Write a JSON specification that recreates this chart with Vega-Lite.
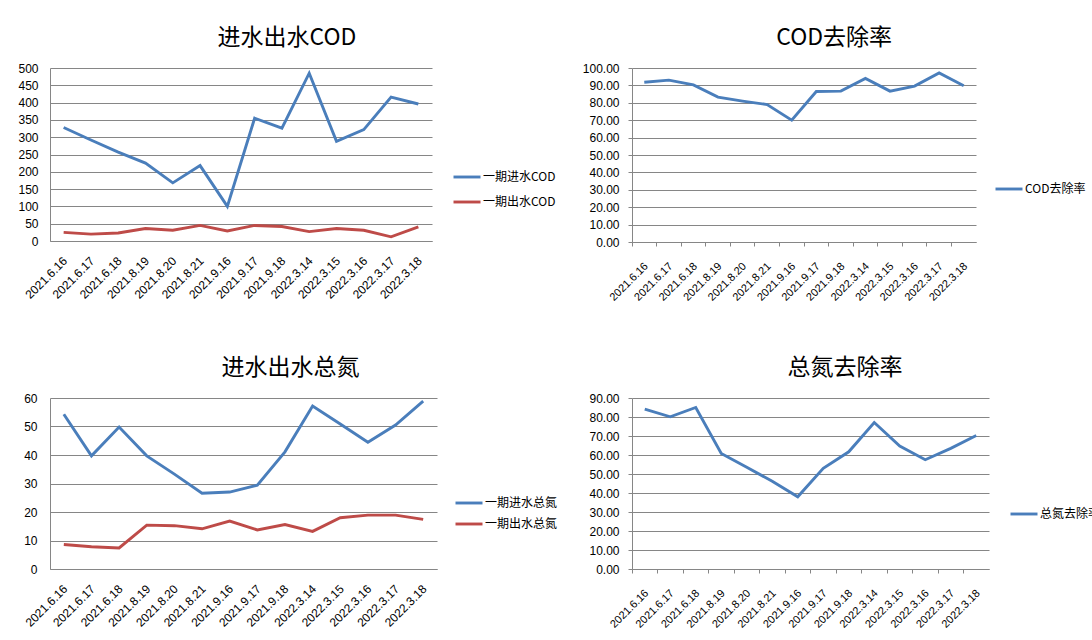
{
  "$schema": "https://vega.github.io/schema/vega-lite/v6.json",
  "padding": {"left": 17, "top": 27, "right": 0, "bottom": 0},
  "background": "white",
  "config": {
    "font": "Noto Sans CJK SC",
    "view": {"stroke": null},
    "axis": {"labelFont": "Liberation Sans", "labelFontSize": 12, "labelColor": "#000", "domainColor": "#868686", "gridColor": "#868686", "tickColor": "#868686", "title": null},
    "title": {"font": "Noto Sans CJK SC", "fontSize": 23, "fontWeight": "normal", "anchor": "middle", "frame": "bounds", "offset": 12, "color": "#000"},
    "legend": {"labelFont": "Noto Sans CJK SC", "labelFontSize": 12, "labelColor": "#000", "symbolType": "stroke", "symbolSize": 729, "symbolStrokeWidth": 3, "title": null, "padding": 0, "labelOffset": 1, "orient": "none"},
    "line": {"strokeWidth": 2.9}
  },
  "datasets": {
    "cod": [
      {"d": "2021.6.16", "s": "一期进水COD", "v": 328}, {"d": "2021.6.17", "s": "一期进水COD", "v": 292}, {"d": "2021.6.18", "s": "一期进水COD", "v": 257}, {"d": "2021.8.19", "s": "一期进水COD", "v": 225}, {"d": "2021.8.20", "s": "一期进水COD", "v": 168}, {"d": "2021.8.21", "s": "一期进水COD", "v": 218}, {"d": "2021.9.16", "s": "一期进水COD", "v": 100}, {"d": "2021.9.17", "s": "一期进水COD", "v": 355}, {"d": "2021.9.18", "s": "一期进水COD", "v": 326}, {"d": "2022.3.14", "s": "一期进水COD", "v": 485}, {"d": "2022.3.15", "s": "一期进水COD", "v": 288}, {"d": "2022.3.16", "s": "一期进水COD", "v": 322}, {"d": "2022.3.17", "s": "一期进水COD", "v": 416}, {"d": "2022.3.18", "s": "一期进水COD", "v": 396},
      {"d": "2021.6.16", "s": "一期出水COD", "v": 25}, {"d": "2021.6.17", "s": "一期出水COD", "v": 20}, {"d": "2021.6.18", "s": "一期出水COD", "v": 23}, {"d": "2021.8.19", "s": "一期出水COD", "v": 36}, {"d": "2021.8.20", "s": "一期出水COD", "v": 31}, {"d": "2021.8.21", "s": "一期出水COD", "v": 45}, {"d": "2021.9.16", "s": "一期出水COD", "v": 29}, {"d": "2021.9.17", "s": "一期出水COD", "v": 45}, {"d": "2021.9.18", "s": "一期出水COD", "v": 42}, {"d": "2022.3.14", "s": "一期出水COD", "v": 27}, {"d": "2022.3.15", "s": "一期出水COD", "v": 36}, {"d": "2022.3.16", "s": "一期出水COD", "v": 31}, {"d": "2022.3.17", "s": "一期出水COD", "v": 12}, {"d": "2022.3.18", "s": "一期出水COD", "v": 41}
    ],
    "codr": [
      {"d": "2021.6.16", "s": "COD去除率", "v": 91.8}, {"d": "2021.6.17", "s": "COD去除率", "v": 93}, {"d": "2021.6.18", "s": "COD去除率", "v": 90.3}, {"d": "2021.8.19", "s": "COD去除率", "v": 83.3}, {"d": "2021.8.20", "s": "COD去除率", "v": 81}, {"d": "2021.8.21", "s": "COD去除率", "v": 79}, {"d": "2021.9.16", "s": "COD去除率", "v": 70}, {"d": "2021.9.17", "s": "COD去除率", "v": 86.5}, {"d": "2021.9.18", "s": "COD去除率", "v": 86.7}, {"d": "2022.3.14", "s": "COD去除率", "v": 94}, {"d": "2022.3.15", "s": "COD去除率", "v": 86.7}, {"d": "2022.3.16", "s": "COD去除率", "v": 89.6}, {"d": "2022.3.17", "s": "COD去除率", "v": 97.2}, {"d": "2022.3.18", "s": "COD去除率", "v": 89.8}
    ],
    "tn": [
      {"d": "2021.6.16", "s": "一期进水总氮", "v": 54.3}, {"d": "2021.6.17", "s": "一期进水总氮", "v": 39.7}, {"d": "2021.6.18", "s": "一期进水总氮", "v": 49.8}, {"d": "2021.8.19", "s": "一期进水总氮", "v": 39.7}, {"d": "2021.8.20", "s": "一期进水总氮", "v": 33.3}, {"d": "2021.8.21", "s": "一期进水总氮", "v": 26.6}, {"d": "2021.9.16", "s": "一期进水总氮", "v": 27}, {"d": "2021.9.17", "s": "一期进水总氮", "v": 29.4}, {"d": "2021.9.18", "s": "一期进水总氮", "v": 41.1}, {"d": "2022.3.14", "s": "一期进水总氮", "v": 57.2}, {"d": "2022.3.15", "s": "一期进水总氮", "v": 50.9}, {"d": "2022.3.16", "s": "一期进水总氮", "v": 44.5}, {"d": "2022.3.17", "s": "一期进水总氮", "v": 50.5}, {"d": "2022.3.18", "s": "一期进水总氮", "v": 58.9},
      {"d": "2021.6.16", "s": "一期出水总氮", "v": 8.6}, {"d": "2021.6.17", "s": "一期出水总氮", "v": 7.8}, {"d": "2021.6.18", "s": "一期出水总氮", "v": 7.4}, {"d": "2021.8.19", "s": "一期出水总氮", "v": 15.4}, {"d": "2021.8.20", "s": "一期出水总氮", "v": 15.2}, {"d": "2021.8.21", "s": "一期出水总氮", "v": 14.1}, {"d": "2021.9.16", "s": "一期出水总氮", "v": 16.8}, {"d": "2021.9.17", "s": "一期出水总氮", "v": 13.7}, {"d": "2021.9.18", "s": "一期出水总氮", "v": 15.6}, {"d": "2022.3.14", "s": "一期出水总氮", "v": 13.2}, {"d": "2022.3.15", "s": "一期出水总氮", "v": 18}, {"d": "2022.3.16", "s": "一期出水总氮", "v": 18.9}, {"d": "2022.3.17", "s": "一期出水总氮", "v": 18.9}, {"d": "2022.3.18", "s": "一期出水总氮", "v": 17.4}
    ],
    "tnr": [
      {"d": "2021.6.16", "s": "总氮去除率", "v": 84.1}, {"d": "2021.6.17", "s": "总氮去除率", "v": 80.1}, {"d": "2021.6.18", "s": "总氮去除率", "v": 85}, {"d": "2021.8.19", "s": "总氮去除率", "v": 60.8}, {"d": "2021.8.20", "s": "总氮去除率", "v": 53.5}, {"d": "2021.8.21", "s": "总氮去除率", "v": 46.2}, {"d": "2021.9.16", "s": "总氮去除率", "v": 38}, {"d": "2021.9.17", "s": "总氮去除率", "v": 53}, {"d": "2021.9.18", "s": "总氮去除率", "v": 61.7}, {"d": "2022.3.14", "s": "总氮去除率", "v": 77.1}, {"d": "2022.3.15", "s": "总氮去除率", "v": 64.7}, {"d": "2022.3.16", "s": "总氮去除率", "v": 57.5}, {"d": "2022.3.17", "s": "总氮去除率", "v": 63.5}, {"d": "2022.3.18", "s": "总氮去除率", "v": 70.3}
    ]
  },
  "columns": 2,
  "spacing": {"row": 156, "column": 195},
  "bounds": "flush",
  "resolve": {"scale": {"color": "independent", "x": "independent", "y": "independent"}, "legend": {"color": "independent"}, "axis": {"x": "independent", "y": "independent"}},
  "concat": [
    {
      "title": "进水出水COD",
      "width": 382, "height": 173,
      "data": {"name": "cod"},
      "mark": "line",
      "encoding": {
        "x": {"field": "d", "type": "nominal", "sort": null, "scale": {"type": "band", "paddingInner": 0, "paddingOuter": 0}, "axis": {"labelAngle": -45, "ticks": false, "labelPadding": 14, "labelOffset": -2}},
        "y": {"field": "v", "type": "quantitative", "scale": {"domain": [0, 500], "nice": false}, "axis": {"values": [0, 50, 100, 150, 200, 250, 300, 350, 400, 450, 500], "ticks": false, "grid": true, "labelPadding": 12}},
        "color": {"field": "s", "type": "nominal", "scale": {"domain": ["一期进水COD", "一期出水COD"], "range": ["#4A7EBB", "#BE4B48"]}, "legend": {"legendX": 402, "legendY": 94, "rowPadding": 4}}
      }
    },
    {
      "title": "COD去除率",
      "width": 344, "height": 174,
      "data": {"name": "codr"},
      "mark": "line",
      "encoding": {
        "x": {"field": "d", "type": "nominal", "sort": null, "scale": {"type": "band", "paddingInner": 0, "paddingOuter": 0}, "axis": {"labelAngle": -45, "labelFontSize": 11, "ticks": true, "tickSize": 4, "bandPosition": 0, "labelOffset": -2, "labelPadding": 14}},
        "y": {"field": "v", "type": "quantitative", "scale": {"domain": [0, 100], "nice": false}, "axis": {"values": [0, 10, 20, 30, 40, 50, 60, 70, 80, 90, 100], "format": ".2f", "ticks": true, "tickSize": 4, "grid": true, "labelPadding": 9}},
        "color": {"field": "s", "type": "nominal", "scale": {"range": ["#4A7EBB"]}, "legend": {"legendX": 362, "legendY": 106}}
      }
    },
    {
      "title": "进水出水总氮",
      "width": 387, "height": 171,
      "data": {"name": "tn"},
      "mark": "line",
      "encoding": {
        "x": {"field": "d", "type": "nominal", "sort": null, "scale": {"type": "band", "paddingInner": 0, "paddingOuter": 0}, "axis": {"labelAngle": -45, "ticks": false, "labelPadding": 14, "labelOffset": -2}},
        "y": {"field": "v", "type": "quantitative", "scale": {"domain": [0, 60], "nice": false}, "axis": {"values": [0, 10, 20, 30, 40, 50, 60], "ticks": false, "grid": true, "labelPadding": 13}},
        "color": {"field": "s", "type": "nominal", "scale": {"domain": ["一期进水总氮", "一期出水总氮"], "range": ["#4A7EBB", "#BE4B48"]}, "legend": {"legendX": 404, "legendY": 90, "rowPadding": 0}}
      }
    },
    {
      "title": "总氮去除率",
      "width": 357, "height": 171,
      "data": {"name": "tnr"},
      "mark": "line",
      "encoding": {
        "x": {"field": "d", "type": "nominal", "sort": null, "scale": {"type": "band", "paddingInner": 0, "paddingOuter": 0}, "axis": {"labelAngle": -45, "labelFontSize": 11, "ticks": true, "tickSize": 4, "bandPosition": 0, "labelOffset": -2, "labelPadding": 14}},
        "y": {"field": "v", "type": "quantitative", "scale": {"domain": [0, 90], "nice": false}, "axis": {"values": [0, 10, 20, 30, 40, 50, 60, 70, 80, 90], "format": ".2f", "ticks": true, "tickSize": 4, "grid": true, "labelPadding": 9}},
        "color": {"field": "s", "type": "nominal", "scale": {"range": ["#4A7EBB"]}, "legend": {"legendX": 377, "legendY": 101}}
      }
    }
  ]
}
